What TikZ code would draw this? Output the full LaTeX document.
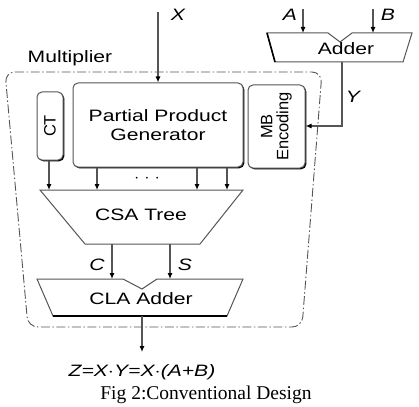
\documentclass[tikz,border=0pt]{standalone}
\usepackage{fontspec}
\setmainfont{Liberation Sans}
\newfontfamily\capfont{Liberation Serif}
\usetikzlibrary{arrows.meta,shadows}
\newcommand\sxw[1]{\scalebox{1.28}[1]{#1}}
\definecolor{ln}{HTML}{555555}
\tikzset{
  conn/.style={draw=ln, line width=1.1pt, -{Latex[length=6pt,width=5pt,color=black]}},
  blk/.style={draw=ln, line width=1pt, rounded corners=5pt, fill=white,
     drop shadow={shadow xshift=1.3pt, shadow yshift=-1.3pt, fill=black, opacity=1}},
  shape1/.style={draw=ln, line width=1pt, fill=white},
  lbl/.style={font=\fontsize{16.5}{19}\selectfont, inner sep=0pt, align=center},
  ilbl/.style={font=\fontsize{16.5}{19}\selectfont\itshape, inner sep=0pt},
}
\begin{document}
\begin{tikzpicture}[x=1pt,y=-1pt]
\useasboundingbox (0,0) rectangle (419,406);
% boundary
\draw[ln, line width=0.9pt, dash pattern=on 9pt off 2.5pt on 1.5pt off 2.5pt, rounded corners=10pt]
  (5,72) -- (322,72) -- (302,327) -- (28,327) -- cycle;
\node[lbl, anchor=center] (mult) at (70,58) {\sxw{Multiplier}};
% blocks
\node[blk, minimum width=170pt, minimum height=84pt, lbl] (ppg) at (158,125) {\sxw{Partial Product}\\\sxw{Generator}};
\node[blk, minimum width=26pt, minimum height=68pt] (ct) at (50,126) {};
\node[lbl, rotate=90] at (ct.center) {CT};
\node[blk, minimum width=57pt, minimum height=83pt] (mb) at (276.5,126.5) {};
\node[lbl, rotate=90, font=\fontsize{16.5}{16}\selectfont] at (mb.center) {MB\\Encoding};
% CSA tree
\draw[shape1] (40,190) -- (243,190) -- (200,244) -- (85,244) -- cycle;
\node[lbl] (csa) at (141,215) {\sxw{CSA Tree}};
% CLA adder
\draw[shape1] (37,279) -- (123,279) -- (142,289) -- (157,279) -- (243,279) -- (227,316) -- (53,316) -- cycle;
\draw[black, line width=2pt] (53,316) -- (227,316);
\node[lbl] (cla) at (141,299) {\sxw{CLA Adder}};
% Adder
\draw[shape1] (267,33) -- (328,33) -- (340,42) -- (352,33) -- (412,33) -- (403,62) -- (275,62) -- cycle;
\draw[black, line width=1.6pt] (267,33) -- (275,62);
\node[lbl] (add) at (346,49) {\sxw{Adder}};
% coordinates
\coordinate (xin) at (158,12);
\coordinate (ain) at (303,9);
\coordinate (aend) at (303,33);
\coordinate (bin) at (373,9);
\coordinate (bend) at (373,33);
\coordinate (yout) at (342,62);
\coordinate (ycorner) at (342,126);
\coordinate (csa1) at (49,190);
\coordinate (csa2) at (97,190);
\coordinate (csa3) at (197,190);
\coordinate (csa4) at (227,190);
\coordinate (cst) at (112,244);
\coordinate (cen) at (112,279);
\coordinate (sst) at (170,244);
\coordinate (sen) at (170,279);
\coordinate (zst) at (142,316);
\coordinate (zen) at (142,352);
% connectors
\draw[conn] (xin) -- (ppg.north);
\draw[conn] (ain) -- (aend);
\draw[conn] (bin) -- (bend);
\draw[conn] (yout) -- (ycorner) -- (mb.east |- ycorner);
\draw[conn] (ct.south -| csa1) -- (csa1);
\draw[conn] (ppg.south -| csa2) -- (csa2);
\draw[conn] (ppg.south -| csa3) -- (csa3);
\draw[conn] (ppg.south -| csa4) -- (csa4);
\node[lbl] (dots) at (147,179) {$\cdot$\,\,$\cdot$\,\,$\cdot$};
\draw[conn] (cst) -- (cen);
\draw[conn] (sst) -- (sen);
\draw[conn] (zst) -- (zen);
% labels
\node[ilbl] (lx) at (178,15) {\sxw{X}};
\node[ilbl] (la) at (290,15) {\sxw{A}};
\node[ilbl] (lb) at (388,15) {\sxw{B}};
\node[ilbl] (ly) at (353,97) {\sxw{Y}};
\node[ilbl] (lc) at (97,265) {\sxw{C}};
\node[ilbl] (ls) at (185,265) {\sxw{S}};
\node[ilbl] (lz) at (142,372) {\sxw{Z=X$\cdot$Y=X$\cdot$(A+B)}};
\node[inner sep=0pt, font=\capfont\fontsize{19.5}{22}\selectfont] (cap) at (206,395) {Fig 2:Conventional Design};
\end{tikzpicture}
\end{document}
